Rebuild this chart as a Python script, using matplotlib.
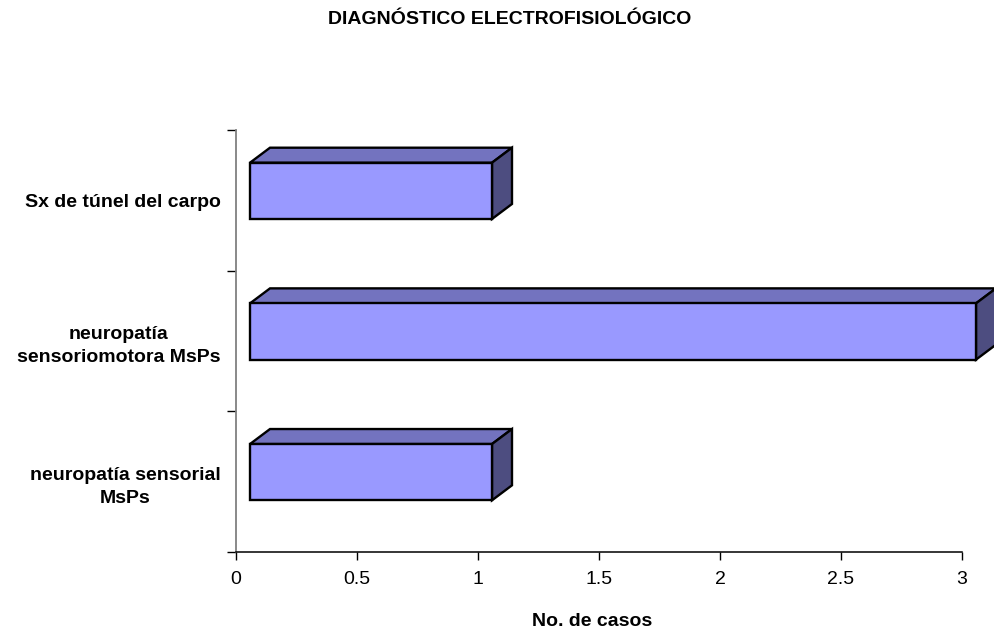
import matplotlib
matplotlib.use("Agg")
import matplotlib.pyplot as plt
from matplotlib.patches import Polygon
from matplotlib.transforms import IdentityTransform

plt.rcParams['font.family'] = ['Liberation Sans', 'DejaVu Sans']

categories = ["neuropatía sensorial\nMsPs",
              "neuropatía\nsensoriomotora MsPs",
              "Sx de túnel del carpo"]
casos = [1, 3, 1]
x_ticks = [0, 0.5, 1, 1.5, 2, 2.5, 3]
x_tick_labels = ["0", "0.5", "1", "1.5", "2", "2.5", "3"]

DPI = 100
fig = plt.figure(figsize=(9.94, 6.37), dpi=DPI)
ax = fig.add_axes([236 / 994, 85 / 637, 726 / 994, 422 / 637])

ax.set_xlim(0, 3)
ax.set_ylim(-0.5, len(categories) - 0.5)

# 3D bar geometry (pixels): front face shift and depth extrusion
front_dx, front_dy = 14, 9.5
depth_dx, depth_dy = 20, 15
bar_h = 0.4

c_front = "#9999FF"
c_top = "#7373BF"
c_side = "#4D4D80"


def disp(x, y, dx=0.0, dy=0.0):
    px, py = ax.transData.transform((x, y))
    return (px + dx, py + dy)


def face(points, color):
    poly = Polygon(points, closed=True, facecolor=color, edgecolor="black",
                   linewidth=1.7, transform=IdentityTransform(), clip_on=False,
                   joinstyle="miter")
    ax.add_patch(poly)


for i, v in enumerate(casos):
    y0, y1 = i - bar_h / 2, i + bar_h / 2
    fbl = disp(0, y0, front_dx, front_dy)
    fbr = disp(v, y0, front_dx, front_dy)
    ftr = disp(v, y1, front_dx, front_dy)
    ftl = disp(0, y1, front_dx, front_dy)
    btl = (ftl[0] + depth_dx, ftl[1] + depth_dy)
    btr = (ftr[0] + depth_dx, ftr[1] + depth_dy)
    bbr = (fbr[0] + depth_dx, fbr[1] + depth_dy)
    face([ftl, ftr, btr, btl], c_top)
    face([fbr, bbr, btr, ftr], c_side)
    face([fbl, fbr, ftr, ftl], c_front)

# axes styling
for s in ["top", "right"]:
    ax.spines[s].set_visible(False)
ax.spines["left"].set_color("#808080")
ax.spines["left"].set_linewidth(1.3)
ax.spines["bottom"].set_color("black")
ax.spines["bottom"].set_linewidth(1.1)

ax.set_xticks(x_ticks)
ax.set_xticklabels(x_tick_labels, fontsize=14)
ax.tick_params(axis="x", direction="out", length=6, width=1, pad=8, color="black")

ax.set_yticks(range(len(categories)))
ax.set_yticklabels(categories, fontsize=14, fontweight="bold",
                   multialignment="center", linespacing=1.45)
ax.tick_params(axis="y", which="major", length=0, pad=11)
ax.set_yticks([k - 0.5 for k in range(len(categories) + 1)], minor=True)
ax.tick_params(axis="y", which="minor", direction="out", length=6.5, width=1,
               color="black")

fig.text(510 / 994, 1 - 19 / 637, "DIAGNÓSTICO ELECTROFISIOLÓGICO",
         ha="center", va="center", fontsize=14, fontweight="bold")
fig.text(592 / 994, 1 - 622 / 637, "No. de casos",
         ha="center", va="center", fontsize=14, fontweight="bold")

fig.savefig("out.png", dpi=DPI, facecolor="white")
